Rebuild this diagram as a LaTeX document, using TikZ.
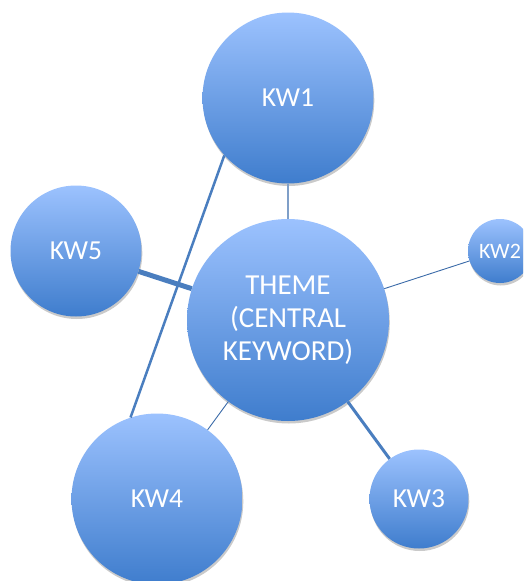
\documentclass[tikz,border=0pt]{standalone}
\usepackage{fontspec}
\setmainfont{Carlito}
\usetikzlibrary{shadows}
\definecolor{topc}{HTML}{9CC2FE}
\definecolor{botc}{HTML}{3F7DCD}
\definecolor{lineblue}{HTML}{4A7EBF}
\definecolor{linegrey}{HTML}{7F9FC8}
\definecolor{linedark}{HTML}{3A6AA8}
\tikzset{
  bubble/.style={circle, inner sep=0pt, top color=topc, bottom color=botc,
    text=white, align=center,
    drop shadow={shadow xshift=0.8pt, shadow yshift=-2.5pt, opacity=0.35, fill=black!60}},
}
\begin{document}
\begin{tikzpicture}[x=1pt,y=-1pt]
\useasboundingbox (0,0) rectangle (523,581);
\clip (0,0) rectangle (523,581);
\node[bubble, minimum size=202pt, font=\fontsize{29}{33}\selectfont] (c) at (288,320) {THEME\\(CENTRAL\\KEYWORD)};
\node[bubble, minimum size=171pt, font=\fontsize{27.5}{30}\selectfont] (k1) at (288,98) {KW1};
\node[bubble, minimum size=64pt, font=\fontsize{22}{24}\selectfont] (k2) at (500,251) {KW2};
\node[bubble, minimum size=99pt, font=\fontsize{27.5}{30}\selectfont] (k3) at (419,499) {KW3};
\node[bubble, minimum size=171pt, font=\fontsize{27.5}{30}\selectfont] (k4) at (157,499) {KW4};
\node[bubble, minimum size=131pt, font=\fontsize{27.5}{30}\selectfont] (k5) at (76,251) {KW5};
\draw[linegrey, line width=1.6pt] (k1) -- (c);
\draw[linedark, line width=0.9pt] (k2) -- (c);
\draw[lineblue, line width=3pt] (k3) -- (c);
\draw[linedark, line width=0.9pt] (k4) -- (c);
\draw[lineblue, line width=2.5pt] (k1.222) -- (k4.108.4);
\draw[lineblue, line width=5pt] (k5) -- (c);
\end{tikzpicture}
\end{document}
